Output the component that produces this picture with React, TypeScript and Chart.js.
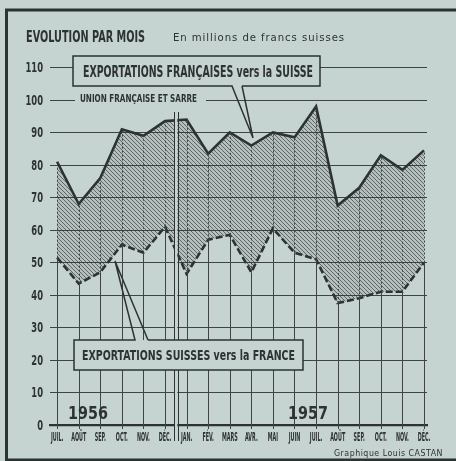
import { useEffect, useRef } from "react";
import { Chart, registerables } from "chart.js";

Chart.register(...registerables);

// ---- data ----
const months = ["JUIL.", "AOÛT", "SEP.", "OCT.", "NOV.", "DÉC.", "JAN.", "FÉV.", "MARS", "AVR.", "MAI", "JUIN", "JUIL.", "AOÛT", "SEP.", "OCT.", "NOV.", "DÉC."];
const frenchExports = [81, 68, 76, 91, 89, 93.5, 94, 83.5, 90, 86, 90, 88.5, 98, 67.5, 73, 83, 78.5, 84.5];
const swissExports = [51.5, 43.5, 47, 55.5, 53, 61, 46.5, 57, 58.5, 47, 60.5, 53, 51, 37.5, 39, 41, 41, 50];
const yearLabels = ["1956", "1957"];
const title = "EVOLUTION PAR MOIS";
const subtitle = "En millions de francs suisses";
const frenchLabel = "EXPORTATIONS FRANÇAISES vers la SUISSE";
const swissLabel = "EXPORTATIONS SUISSES vers la FRANCE";
const unionLabel = "UNION FRANÇAISE ET SARRE";
const credit = "Graphique Louis CASTAN";

const BG = "rgb(197,211,209)";
const INK = "rgb(45,50,50)";
const GRID = "rgb(62,68,68)";
const BOLD = "'DejaVu Sans', 'Liberation Sans', sans-serif";

function makeHatch(): CanvasPattern | string {
  const c = document.createElement("canvas");
  c.width = 4;
  c.height = 4;
  const g = c.getContext("2d");
  if (!g) return "rgba(90,100,100,0.4)";
  g.fillStyle = "rgba(70,80,80,0.14)";
  g.fillRect(0, 0, 4, 4);
  g.strokeStyle = "rgba(35,40,40,0.58)";
  g.lineWidth = 1;
  g.beginPath();
  g.moveTo(-1, -1);
  g.lineTo(5, 5);
  g.moveTo(-1, 3);
  g.lineTo(1, 5);
  g.moveTo(3, -1);
  g.lineTo(5, 1);
  g.stroke();
  return g.createPattern(c, "repeat") || "rgba(90,100,100,0.4)";
}

type TextOpts = { width?: number; sx?: number; align?: "left" | "center" | "right"; baseline?: CanvasTextBaseline; spacing?: string };

function drawText(ctx: CanvasRenderingContext2D, text: string, x: number, y: number, font: string, o: TextOpts = {}) {
  ctx.save();
  ctx.font = font;
  if (o.spacing) (ctx as any).letterSpacing = o.spacing;
  ctx.fillStyle = INK;
  ctx.textBaseline = o.baseline || "alphabetic";
  ctx.textAlign = "left";
  const w = ctx.measureText(text).width;
  const sx = o.width ? o.width / w : o.sx ?? 1;
  const W = w * sx;
  const left = o.align === "center" ? x - W / 2 : o.align === "right" ? x - W : x;
  ctx.translate(left, y);
  ctx.scale(sx, 1);
  ctx.fillText(text, 0, 0);
  ctx.restore();
}

const decor = {
  id: "decor",
  beforeDraw(chart: any) {
    const ctx: CanvasRenderingContext2D = chart.ctx;
    ctx.save();
    ctx.fillStyle = BG;
    ctx.fillRect(0, 0, chart.width, chart.height);
    ctx.strokeStyle = INK;
    ctx.lineWidth = 3;
    ctx.beginPath();
    ctx.moveTo(6.5, 461);
    ctx.lineTo(6.5, 10);
    ctx.lineTo(456, 10);
    ctx.stroke();
    ctx.beginPath();
    ctx.moveTo(5, 460);
    ctx.lineTo(456, 460);
    ctx.stroke();
    ctx.restore();
  },
  afterDatasetsDraw(chart: any) {
    const ctx: CanvasRenderingContext2D = chart.ctx;
    const xs = chart.scales.x;
    const ys = chart.scales.y;
    const y0 = ys.getPixelForValue(0);
    ctx.save();
    ctx.strokeStyle = GRID;
    ctx.lineWidth = 1;
    months.forEach((_, i) => {
      const x = Math.round(xs.getPixelForValue(i)) + 0.5;
      const yl = ys.getPixelForValue(swissExports[i]);
      const yu = ys.getPixelForValue(frenchExports[i]);
      ctx.setLineDash([]);
      ctx.beginPath();
      ctx.moveTo(x, y0 + 4);
      ctx.lineTo(x, yl);
      ctx.stroke();
      ctx.setLineDash([2, 2]);
      ctx.beginPath();
      ctx.moveTo(x, yl);
      ctx.lineTo(x, yu);
      ctx.stroke();
    });
    ctx.setLineDash([]);
    // separator between 1956 and 1957
    const xsep = xs.getPixelForValue(5.5);
    ctx.fillStyle = BG;
    ctx.fillRect(xsep - 1.5, 112, 3, 329);
    ctx.strokeStyle = INK;
    ctx.beginPath();
    ctx.moveTo(Math.round(xsep - 2) + 0.5, 112);
    ctx.lineTo(Math.round(xsep - 2) + 0.5, 441);
    ctx.moveTo(Math.round(xsep + 2) + 0.5, 112);
    ctx.lineTo(Math.round(xsep + 2) + 0.5, 441);
    ctx.stroke();
    ctx.restore();
  },
  afterDraw(chart: any) {
    const ctx: CanvasRenderingContext2D = chart.ctx;
    const xs = chart.scales.x;
    const ys = chart.scales.y;
    // axis tick labels (positions from the library's scales)
    xs.ticks.forEach((t: any) => {
      const x = xs.getPixelForValue(t.value);
      drawText(ctx, months[t.value], x, 441, `bold 11.5px ${BOLD}`, { sx: 0.42, align: "center" });
    });
    ys.ticks.forEach((t: any) => {
      drawText(ctx, String(t.value), 43, ys.getPixelForValue(t.value) + 1, `bold 14px ${BOLD}`, { sx: 0.6, align: "right", baseline: "middle" });
    });
    // title & subtitle
    drawText(ctx, title, 26, 42, `bold 15.5px ${BOLD}`, { width: 119 });
    drawText(ctx, subtitle, 173, 41, `11px 'DejaVu Sans', sans-serif`, { width: 172, spacing: "1px" });
    // UNION label on the 100 line
    ctx.save();
    ctx.fillStyle = BG;
    ctx.fillRect(75, 93, 131, 11);
    ctx.restore();
    drawText(ctx, unionLabel, 80, 102, `bold 10px ${BOLD}`, { width: 117 });
    // years
    drawText(ctx, yearLabels[0], 68, 419, `bold 17px ${BOLD}`, { width: 40 });
    drawText(ctx, yearLabels[1], 288, 419, `bold 17px ${BOLD}`, { width: 40 });
    // callout boxes
    ctx.save();
    ctx.fillStyle = BG;
    ctx.fillRect(73, 56, 247, 30);
    ctx.fillRect(74, 340, 229, 30);
    ctx.strokeStyle = INK;
    ctx.lineWidth = 1.5;
    ctx.lineJoin = "miter";
    ctx.beginPath();
    ctx.moveTo(242, 86);
    ctx.lineTo(320, 86);
    ctx.lineTo(320, 56);
    ctx.lineTo(73, 56);
    ctx.lineTo(73, 86);
    ctx.lineTo(232, 86);
    ctx.lineTo(253, 138);
    ctx.lineTo(242, 86);
    ctx.stroke();
    ctx.beginPath();
    ctx.moveTo(148, 340);
    ctx.lineTo(303, 340);
    ctx.lineTo(303, 370);
    ctx.lineTo(74, 370);
    ctx.lineTo(74, 340);
    ctx.lineTo(135, 340);
    ctx.lineTo(115, 261);
    ctx.lineTo(148, 340);
    ctx.stroke();
    ctx.restore();
    drawText(ctx, frenchLabel, 83, 77, `bold 15.5px ${BOLD}`, { width: 230 });
    drawText(ctx, swissLabel, 82, 360, `bold 14px ${BOLD}`, { width: 213 });
    // credit
    drawText(ctx, credit, 334, 456, `8px 'DejaVu Sans', sans-serif`, { width: 109, spacing: "0.5px" });
  },
};

export default function App() {
  const ref = useRef<HTMLCanvasElement | null>(null);
  useEffect(() => {
    if (!ref.current) return;
    const hatch = makeHatch();
    const chart = new Chart(ref.current, {
      type: "line",
      data: {
        datasets: [
          {
            label: frenchLabel,
            data: frenchExports.map((v, i) => ({ x: i, y: v })),
            borderColor: INK,
            borderWidth: 2.6,
            pointRadius: 0,
            tension: 0,
            fill: "+1",
            backgroundColor: hatch as any,
          },
          {
            label: swissLabel,
            data: swissExports.map((v, i) => ({ x: i, y: v })),
            borderColor: INK,
            borderWidth: 2.6,
            borderDash: [7, 3],
            pointRadius: 0,
            tension: 0,
            fill: false,
          },
        ],
      },
      options: {
        responsive: false,
        animation: false,
        devicePixelRatio: 1,
        layout: { padding: { left: 0, top: 67.5, right: 29, bottom: 0 } },
        plugins: {
          legend: { display: false },
          tooltip: { enabled: false },
          filler: { drawTime: "beforeDatasetsDraw" },
        },
        scales: {
          x: {
            type: "linear",
            min: -0.33,
            max: 17.14,
            grid: { display: false },
            border: { display: true, color: INK, width: 2.2 },
            ticks: { display: false },
            afterBuildTicks: (s: any) => {
              s.ticks = months.map((_, i) => ({ value: i }));
            },
            afterFit: (s: any) => {
              s.height = 36;
            },
          },
          y: {
            min: 0,
            max: 110,
            grid: { color: GRID, lineWidth: 1, drawTicks: false },
            border: { display: false },
            ticks: { display: false, stepSize: 10 },
            afterFit: (s: any) => {
              s.width = 50;
            },
          },
        },
      },
      plugins: [decor],
    });
    return () => chart.destroy();
  }, []);
  return (
    <div style={{ position: "fixed", left: 0, top: 0, width: 456, height: 461 }}>
      <canvas ref={ref} width={456} height={461} style={{ display: "block" }} />
    </div>
  );
}
